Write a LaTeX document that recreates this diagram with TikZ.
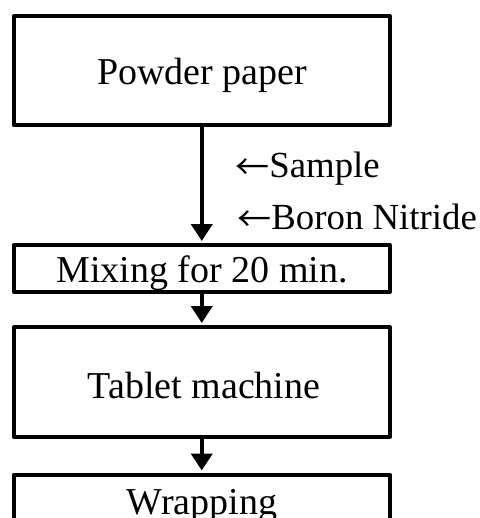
\documentclass[tikz,border=0pt]{standalone}
\usepackage{fontspec}
\setmainfont{Liberation Serif}
\newfontfamily\arrowfont{Noto Sans CJK JP}
\usetikzlibrary{arrows.meta}
% thin open arrow set in front of an added material
\newcommand{\inarrow}{\raisebox{-1.2pt}{\arrowfont\fontsize{17}{17}\selectfont ←}}
\begin{document}
\begin{tikzpicture}[x=0.5pt,y=-0.5pt,
  stepbox/.style={draw, line width=2pt, line join=round, minimum width=187.75pt, inner sep=0pt},
  label/.style={font=\fontsize{19}{22}\selectfont, inner sep=0pt, anchor=base},
  addlabel/.style={font=\fontsize{18.4}{22}\selectfont, inner sep=0pt, anchor=base west},
  flow/.style={line width=2pt, -{Triangle[width=10.5pt,length=8.5pt]}, shorten >=1pt}]
\useasboundingbox (0,0) rectangle (480,518);
\clip (0,0) rectangle (480,518);
% process boxes
\node[stepbox, minimum height=54.75pt] (b1) at (201.75,70.75) {};
\node[stepbox, minimum height=23.5pt]  (b2) at (201.75,268.5) {};
\node[stepbox, minimum height=55pt]    (b3) at (201.75,382) {};
\node[stepbox, minimum height=23.5pt]  (b4) at (201.75,498) {};
% box texts
\node[label] (t1) at (202,85)  {Powder paper};
\node[label] (t2) at (202,282) {Mixing for 20 min.};
\node[label] (t3) at (204,398) {Tablet machine};
\node[label] (t4) at (202,514) {Wrapping};
% added materials
\node[addlabel] (s1) at (235,177) {\inarrow Sample};
\node[addlabel] (s2) at (237,229) {\inarrow Boron Nitride};
% connectors
\draw[flow] (b1) -- (b2);
\draw[flow] (b2) -- (b3);
\draw[flow] (b3) -- (b4);
\end{tikzpicture}
\end{document}
